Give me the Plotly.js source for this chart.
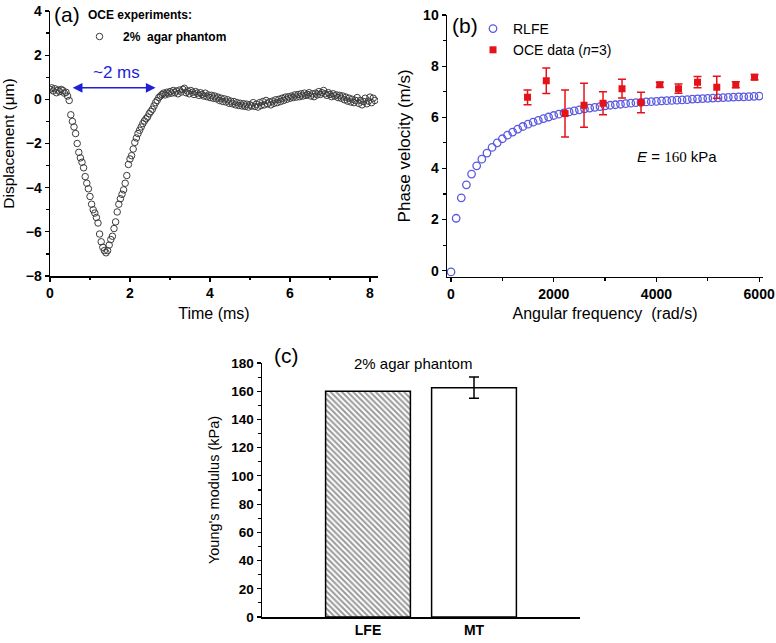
<!DOCTYPE html>
<html>
<head>
<meta charset="utf-8">
<script src="https://cdn.plot.ly/plotly-3.0.1.min.js"></script>
<style>html,body{margin:0;padding:0;background:#fff;}#chart{width:776px;height:643px;}</style>
</head>
<body>
<div id="chart"></div>
<script>
// ---- Panel (a): displacement vs time ----
const timeMs = [0,0.04,0.08,0.12,0.16,0.2,0.24,0.28,0.32,0.36,0.4,0.44,0.48,0.52,0.56,0.6,0.64,0.68,0.72,0.76,0.8,0.84,0.88,0.92,0.96,
1,1.04,1.08,1.12,1.16,1.2,1.24,1.28,1.32,1.36,1.4,1.44,1.48,1.52,1.56,1.6,1.64,1.68,1.72,1.76,1.8,1.84,1.88,1.92,1.96,
2,2.04,2.08,2.12,2.16,2.2,2.24,2.28,2.32,2.36,2.4,2.44,2.48,2.52,2.56,2.6,2.64,2.68,2.72,2.76,2.8,2.84,2.88,2.92,2.96,
3,3.04,3.08,3.12,3.16,3.2,3.24,3.28,3.32,3.36,3.4,3.44,3.48,3.52,3.56,3.6,3.64,3.68,3.72,3.76,3.8,3.84,3.88,3.92,3.96,
4,4.04,4.08,4.12,4.16,4.2,4.24,4.28,4.32,4.36,4.4,4.44,4.48,4.52,4.56,4.6,4.64,4.68,4.72,4.76,4.8,4.84,4.88,4.92,4.96,
5,5.04,5.08,5.12,5.16,5.2,5.24,5.28,5.32,5.36,5.4,5.44,5.48,5.52,5.56,5.6,5.64,5.68,5.72,5.76,5.8,5.84,5.88,5.92,5.96,
6,6.04,6.08,6.12,6.16,6.2,6.24,6.28,6.32,6.36,6.4,6.44,6.48,6.52,6.56,6.6,6.64,6.68,6.72,6.76,6.8,6.84,6.88,6.92,6.96,
7,7.04,7.08,7.12,7.16,7.2,7.24,7.28,7.32,7.36,7.4,7.44,7.48,7.52,7.56,7.6,7.64,7.68,7.72,7.76,7.8,7.84,7.88,7.92,7.96,
8,8.04,8.08,8.12];
const displacementUm = [0.45,0.52,0.38,0.48,0.30,0.42,0.35,0.45,0.40,0.28,0.32,0.15,-0.05,-0.70,-1.00,-1.25,-1.55,-2.00,-2.40,-2.65,-2.85,-3.10,-3.50,-3.80,-4.05,
-4.40,-4.75,-5.00,-5.15,-5.35,-5.60,-6.10,-6.45,-6.70,-6.85,-6.95,-6.85,-6.60,-6.35,-6.20,-5.85,-5.55,-5.10,-4.75,-4.50,-4.30,-4.10,-3.80,-3.45,-2.95,
-2.70,-2.55,-2.25,-1.95,-1.75,-1.55,-1.40,-1.25,-1.10,-0.98,-0.88,-0.80,-0.65,-0.55,-0.45,-0.30,-0.15,-0.05,0.08,0.15,0.22,0.28,0.20,0.32,0.25,
0.35,0.28,0.40,0.30,0.38,0.25,0.42,0.33,0.45,0.50,0.30,0.38,0.25,0.40,0.32,0.22,0.35,0.28,0.18,0.30,0.22,0.15,0.28,0.12,0.20,
0.08,0.18,0.05,0.15,0.02,0.10,-0.05,0.05,-0.10,0.02,-0.12,-0.02,-0.18,-0.08,-0.20,-0.10,-0.25,-0.15,-0.28,-0.18,-0.30,-0.20,-0.32,-0.22,-0.35,
-0.25,-0.30,-0.15,-0.32,-0.22,-0.35,-0.15,-0.28,-0.10,-0.25,-0.05,-0.20,-0.12,-0.25,-0.08,-0.18,-0.02,-0.15,0.00,-0.10,0.05,-0.05,0.10,0.00,0.12,
0.05,0.15,0.08,0.20,0.10,0.22,0.12,0.25,0.15,0.28,0.18,0.22,0.30,0.15,0.25,0.12,0.28,0.20,0.35,0.22,0.30,0.40,0.25,0.18,0.30,
0.22,0.12,0.25,0.15,0.20,0.08,0.18,0.05,0.15,-0.02,0.10,-0.08,0.05,-0.12,0.00,-0.15,-0.05,0.08,-0.18,-0.05,-0.25,-0.10,0.05,-0.20,-0.08,
0.10,-0.15,0.05,-0.05];

// ---- Panel (b): phase velocity vs angular frequency ----
const rlfeOmega = [0,100,200,300,400,500,600,700,800,900,1000,1100,1200,1300,1400,1500,1600,1700,1800,1900,
2000,2100,2200,2300,2400,2500,2600,2700,2800,2900,3000,3100,3200,3300,3400,3500,3600,3700,3800,3900,
4000,4100,4200,4300,4400,4500,4600,4700,4800,4900,5000,5100,5200,5300,5400,5500,5600,5700,5800,5900,6000];
const rlfeVelocity = [-0.05,2.05,2.85,3.36,3.78,4.10,4.36,4.60,4.82,5.00,5.16,5.30,5.42,5.54,5.64,5.73,5.81,5.88,5.95,6.01,
6.07,6.12,6.17,6.21,6.25,6.29,6.33,6.36,6.39,6.42,6.45,6.47,6.49,6.51,6.53,6.55,6.57,6.58,6.60,6.61,
6.62,6.64,6.65,6.66,6.67,6.68,6.69,6.71,6.72,6.73,6.74,6.75,6.76,6.77,6.78,6.79,6.80,6.80,6.81,6.82,6.83];
const oceOmega = [1490,1855,2220,2590,2960,3330,3700,4065,4430,4800,5175,5545,5910];
const oceVelocity = [6.78,7.43,6.15,6.47,6.55,7.12,6.58,7.27,7.12,7.37,7.17,7.27,7.57];
const oceError = [0.29,0.50,0.92,0.86,0.45,0.37,0.40,0.10,0.18,0.22,0.43,0.12,0.10];

// ---- Panel (c): Young's modulus ----
const methods = ['LFE','MT'];
const modulusKPa = [160, 162.5];
const modulusErr = [0, 7.5];

const FONT = 'Liberation Sans, Arial, Helvetica, sans-serif';
function axBase(){
  return {
    showgrid:false, zeroline:false, showline:true, linecolor:'#000', linewidth:1.5,
    ticks:'outside', ticklen:4, tickwidth:1.2, tickcolor:'#000',
    tickfont:{family:FONT, size:14, weight:700, color:'#000'},
    automargin:false
  };
}

const traces = [
  {x:timeMs, y:displacementUm, type:'scatter', mode:'markers', xaxis:'x', yaxis:'y',
   name:'2%&nbsp; agar phantom', legend:'legend',
   marker:{symbol:'circle-open', size:6.5, color:'#3c3c3c', line:{width:1, color:'#3c3c3c'}}},
  {x:rlfeOmega, y:rlfeVelocity, type:'scatter', mode:'markers', xaxis:'x2', yaxis:'y2',
   name:'RLFE', legend:'legend2',
   marker:{symbol:'circle-open', size:7.5, color:'#5a5ae0', line:{width:1.3, color:'#5a5ae0'}}},
  {x:oceOmega, y:oceVelocity, type:'scatter', mode:'markers', xaxis:'x2', yaxis:'y2',
   name:'OCE data (<i>n</i>=3)', legend:'legend2',
   marker:{symbol:'square', size:7, color:'#e5121a'},
   error_y:{type:'data', array:oceError, visible:true, color:'#e5121a', thickness:1.5, width:4}},
  {x:[methods[0]], y:[modulusKPa[0]], type:'bar', xaxis:'x3', yaxis:'y3', width:0.8, showlegend:false,
   marker:{color:'#ffffff', line:{color:'#000', width:1.5},
     pattern:{shape:'\\', fgcolor:'#333', bgcolor:'#fff', size:4, solidity:0.5, fillmode:'overlay'}}},
  {x:[methods[1]], y:[modulusKPa[1]], type:'bar', xaxis:'x3', yaxis:'y3', width:0.8, showlegend:false,
   marker:{color:'#ffffff', line:{color:'#000', width:1.5}},
   error_y:{type:'data', array:[modulusErr[1]], visible:true, color:'#000', thickness:1.5, width:5}}
];

const px = v => v/776, py = v => 1 - v/643;

const layout = {
  width:776, height:643, margin:{l:0,r:0,t:0,b:0},
  paper_bgcolor:'#fff', plot_bgcolor:'rgba(0,0,0,0)',
  font:{family:FONT, color:'#000'},
  barmode:'overlay', showlegend:true,
  xaxis:Object.assign(axBase(), {domain:[px(50), px(378)], anchor:'y', range:[0,8.2],
    tickvals:[0,2,4,6,8], minor:{dtick:1, ticks:'outside', ticklen:2.5, tickcolor:'#000'},
    title:{text:'Time (ms)', font:{size:16}, standoff:7}}),
  yaxis:Object.assign(axBase(), {domain:[py(276), py(11)], anchor:'x', range:[-8,4],
    dtick:2, minor:{dtick:1, ticks:'outside', ticklen:2.5, tickcolor:'#000'},
    title:{text:'Displacement (μm)', font:{size:15.5}, standoff:10}}),
  xaxis2:Object.assign(axBase(), {domain:[px(447), px(763)], anchor:'y2', range:[-78,6075],
    tickvals:[0,2000,4000,6000], minor:{dtick:1000, ticks:'outside', ticklen:2.5, tickcolor:'#000'},
    title:{text:'Angular frequency&nbsp; (rad/s)', font:{size:16}, standoff:7}}),
  yaxis2:Object.assign(axBase(), {domain:[py(276.7), py(15)], anchor:'x2', range:[-0.235,10],
    tickvals:[0,2,4,6,8,10], minor:{dtick:1, ticks:'outside', ticklen:2.5, tickcolor:'#000'},
    title:{text:'Phase velocity (m/s)', font:{size:17}, standoff:8}}),
  xaxis3:Object.assign(axBase(), {domain:[px(262), px(580)], anchor:'y3', type:'category',
    categoryarray:methods, range:[-1,2], ticks:'', ticklen:12}),
  yaxis3:Object.assign(axBase(), {domain:[py(617), py(363)], anchor:'x3', range:[0,180],
    dtick:20, minor:{dtick:10, ticks:'outside', ticklen:2.5, tickcolor:'#000'},
    tickfont:{family:FONT, size:13.5, weight:700, color:'#000'},
    title:{text:"Young's modulus (kPa)", font:{size:14.5}, standoff:8}}),
  legend:{x:px(76), xanchor:'left', y:py(22), yanchor:'top', bgcolor:'rgba(0,0,0,0)',
    font:{family:FONT, size:12, weight:700}, itemwidth:37},
  legend2:{x:px(473), xanchor:'left', y:py(13), yanchor:'top', bgcolor:'rgba(0,0,0,0)',
    font:{family:FONT, size:14}, itemwidth:30, tracegroupgap:0},
  annotations:[
    {xref:'paper', yref:'paper', x:px(67), y:py(15), text:'(a)', showarrow:false, font:{size:21}, xanchor:'center', yanchor:'middle'},
    {xref:'paper', yref:'paper', x:px(86), y:py(15), text:'OCE experiments:', showarrow:false, font:{size:12, weight:700}, xanchor:'left', yanchor:'middle'},
    {xref:'paper', yref:'paper', x:px(116), y:py(72), text:'~2 ms', showarrow:false, font:{size:17, color:'#1f1fd6'}, xanchor:'center', yanchor:'middle'},
    {xref:'x', yref:'y', x:2.64, y:0.52, axref:'x', ayref:'y', ax:0.53, ay:0.52, text:'', showarrow:true,
     arrowside:'end+start', arrowhead:2, startarrowhead:2, arrowsize:1.3, startarrowsize:1.3, arrowwidth:1.5, arrowcolor:'#1f1fd6'},
    {xref:'paper', yref:'paper', x:px(465), y:py(25), text:'(b)', showarrow:false, font:{size:21}, xanchor:'center', yanchor:'middle'},
    {xref:'paper', yref:'paper', x:px(677), y:py(156), text:'<i>E</i> = <span style="font-family:Liberation Serif">160</span> kPa', showarrow:false, font:{size:15}, xanchor:'center', yanchor:'middle'},
    {xref:'paper', yref:'paper', x:px(286), y:py(355), text:'(c)', showarrow:false, font:{size:21}, xanchor:'center', yanchor:'middle'},
    {xref:'paper', yref:'paper', x:px(413), y:py(363), text:'2% agar phantom', showarrow:false, font:{size:15}, xanchor:'center', yanchor:'middle'}
  ]
};

Plotly.newPlot('chart', traces, layout, {staticPlot:true, displayModeBar:false});
</script>
</body>
</html>
